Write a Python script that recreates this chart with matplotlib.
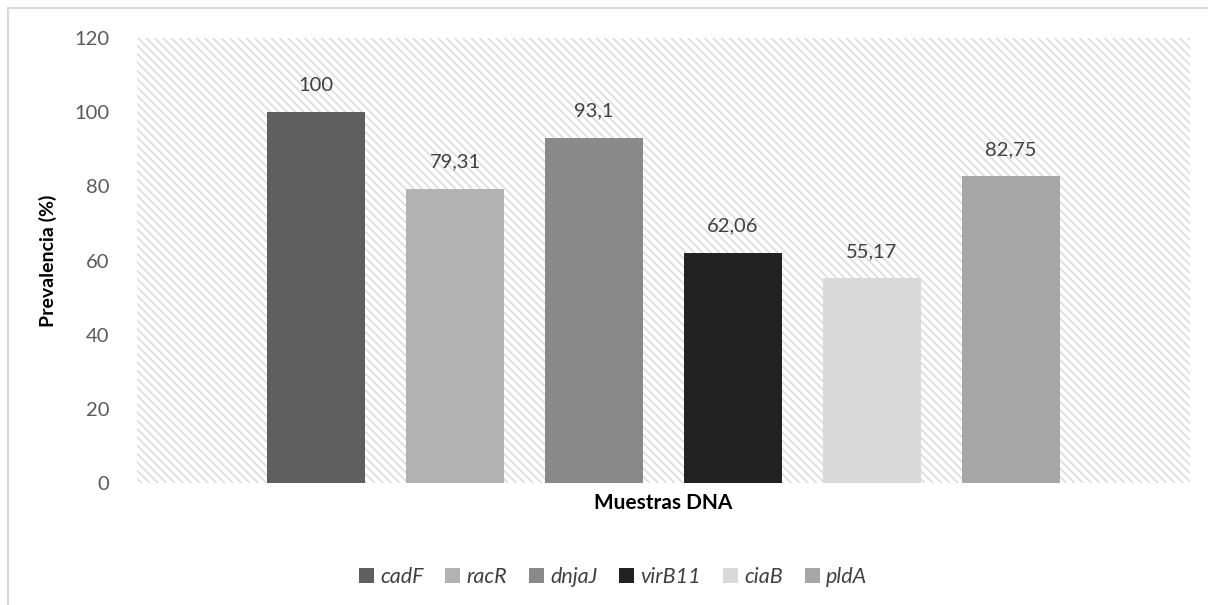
import matplotlib
matplotlib.use("Agg")
import matplotlib.pyplot as plt
from matplotlib.patches import Rectangle
import numpy as np

genes = ["cadF", "racR", "dnjaJ", "virB11", "ciaB", "pldA"]
values = [100, 79.31, 93.1, 62.06, 55.17, 82.75]
labels = ["100", "79,31", "93,1", "62,06", "55,17", "82,75"]
colors = ["#5f5f5f", "#b2b2b2", "#898989", "#222222", "#d9d9d9", "#a6a6a6"]
category = "Muestras DNA"
yticks = [0, 20, 40, 60, 80, 100, 120]

plt.rcParams['font.family'] = ['Lato', 'DejaVu Sans']
plt.rcParams['hatch.linewidth'] = 1.3

fig = plt.figure(figsize=(12.08, 6.05), dpi=100)
# outer light border (chart area)
fig.patches.append(Rectangle((8/1208, -0.1), 1.2, 1 - 8/605 + 0.1, transform=fig.transFigure,
                             facecolor="none", edgecolor="#d9d9d9", lw=1.5))

ax = fig.add_axes([137/1208, 1 - 483/605, (1190 - 137)/1208, (483 - 38)/605])
ax.patch.set_visible(False)
ax.add_patch(Rectangle((0, 0), 1, 1, transform=ax.transAxes, facecolor="white",
                       edgecolor="#dedede", hatch="\\\\\\\\", lw=0, zorder=0))

slot = 139 / 1053
width = 98 / 1053
n = len(genes)
for i, (g, v, lab, c) in enumerate(zip(genes, values, labels, colors)):
    x = (i - (n - 1) / 2) * slot
    ax.bar(x, v, width=width, color=c, label=g, zorder=2)
    ax.annotate(lab, (x, v), xytext=(0, 13), textcoords="offset points",
                ha="center", va="bottom", fontsize=14.5, color="#404040")

ax.set_xlim(-0.5, 0.5)
ax.set_ylim(0, 120)
ax.set_yticks(yticks)
ax.set_yticklabels([str(t) for t in yticks], fontsize=14.5, color="#595959")
ax.tick_params(axis="y", length=0, pad=20)
ax.set_xticks([])
for s in ax.spines.values():
    s.set_visible(False)

ax.set_ylabel("Prevalencia (%)", fontsize=14, fontweight="bold", color="black", labelpad=12)
ax.set_xlabel(category, fontsize=15, fontweight="bold", color="black", labelpad=7)

leg = fig.legend(loc="center", bbox_to_anchor=(613/1208, 1 - 577/605), ncol=n, frameon=False,
                 handlelength=0.7, handleheight=0.7, handletextpad=0.3, columnspacing=1.0,
                 prop={"style": "italic", "size": 15.5})
for t in leg.get_texts():
    t.set_color("#404040")

fig.savefig("out.png", dpi=100)
